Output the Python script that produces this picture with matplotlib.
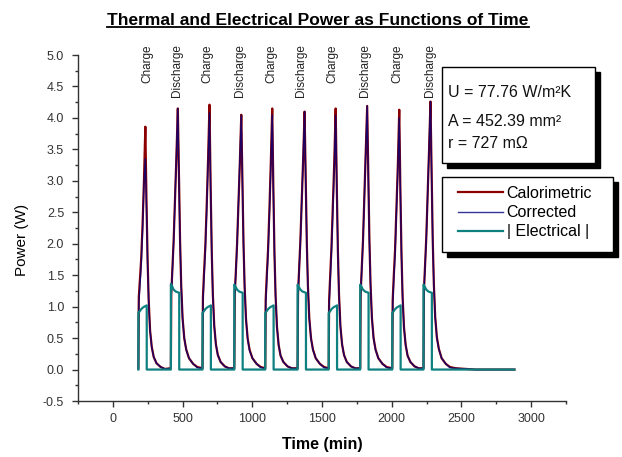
import matplotlib.pyplot as plt
import numpy as np
from matplotlib.patches import Rectangle
from matplotlib.lines import Line2D
from matplotlib.ticker import MultipleLocator

plt.rcParams['font.family'] = ['Liberation Sans', 'DejaVu Sans']

# pulse start times (min), charge / discharge alternate
pulse_start = [183, 416, 643, 871, 1093, 1325, 1548, 1774, 2004, 2228]
pulse_kind = ['Charge', 'Discharge'] * 5
label_time = [248, 463, 679, 912, 1134, 1350, 1577, 1805, 2044, 2272]

# thermal samples, minutes after each pulse start
cal_offset = [0, 3, 10, 20, 30, 40, 50, 58, 66, 74, 84, 96, 110, 130, 160, 190]
calorimetric = [
    [0.02, 1.15, 1.40, 1.75, 2.30, 3.00, 3.86, 2.70, 1.75, 1.10, 0.62, 0.36, 0.20, 0.10, 0.04, 0.01],
    [0.02, 1.20, 1.55, 2.05, 2.70, 3.40, 4.15, 3.05, 2.05, 1.35, 0.82, 0.50, 0.32, 0.18, 0.09, 0.04],
    [0.02, 1.15, 1.50, 1.95, 2.60, 3.35, 4.21, 2.95, 1.90, 1.20, 0.70, 0.40, 0.23, 0.12, 0.05, 0.02],
    [0.02, 1.20, 1.50, 2.00, 2.65, 3.30, 4.05, 3.00, 2.00, 1.32, 0.80, 0.49, 0.31, 0.18, 0.09, 0.04],
    [0.02, 1.10, 1.45, 1.90, 2.55, 3.30, 4.15, 2.90, 1.85, 1.18, 0.68, 0.39, 0.22, 0.12, 0.05, 0.02],
    [0.02, 1.20, 1.55, 2.05, 2.70, 3.35, 4.10, 3.02, 2.02, 1.33, 0.81, 0.50, 0.32, 0.18, 0.09, 0.04],
    [0.02, 1.10, 1.45, 1.95, 2.60, 3.30, 4.15, 2.92, 1.88, 1.19, 0.69, 0.40, 0.23, 0.12, 0.05, 0.02],
    [0.02, 1.20, 1.55, 2.05, 2.75, 3.45, 4.19, 3.08, 2.06, 1.36, 0.82, 0.50, 0.32, 0.18, 0.09, 0.04],
    [0.02, 1.10, 1.45, 1.90, 2.55, 3.25, 4.13, 2.88, 1.84, 1.16, 0.67, 0.39, 0.22, 0.12, 0.05, 0.02],
    [0.02, 1.25, 1.60, 2.10, 2.80, 3.50, 4.26, 3.12, 2.08, 1.37, 0.83, 0.51, 0.33, 0.18, 0.09, 0.04],
]
corrected = [
    [0.02, 1.05, 1.30, 1.65, 2.20, 2.95, 3.35, 2.60, 1.72, 1.08, 0.61, 0.35, 0.20, 0.10, 0.04, 0.01],
    [0.02, 1.18, 1.53, 2.03, 2.70, 3.42, 4.15, 3.02, 2.03, 1.34, 0.81, 0.50, 0.31, 0.18, 0.09, 0.03],
    [0.02, 1.07, 1.42, 1.88, 2.52, 3.28, 4.08, 2.90, 1.88, 1.19, 0.70, 0.40, 0.23, 0.12, 0.05, 0.02],
    [0.02, 1.18, 1.48, 1.98, 2.65, 3.32, 4.04, 2.98, 1.99, 1.31, 0.80, 0.48, 0.30, 0.18, 0.09, 0.03],
    [0.02, 1.02, 1.38, 1.83, 2.48, 3.22, 4.05, 2.86, 1.83, 1.17, 0.68, 0.39, 0.22, 0.12, 0.05, 0.02],
    [0.02, 1.18, 1.53, 2.03, 2.70, 3.37, 4.10, 3.00, 2.01, 1.32, 0.81, 0.49, 0.31, 0.18, 0.09, 0.03],
    [0.02, 1.02, 1.38, 1.88, 2.52, 3.22, 4.04, 2.88, 1.86, 1.18, 0.69, 0.40, 0.23, 0.12, 0.05, 0.02],
    [0.02, 1.18, 1.53, 2.03, 2.75, 3.47, 4.19, 3.05, 2.04, 1.35, 0.82, 0.49, 0.31, 0.18, 0.09, 0.03],
    [0.02, 1.02, 1.38, 1.83, 2.48, 3.18, 4.00, 2.84, 1.82, 1.15, 0.67, 0.39, 0.22, 0.12, 0.05, 0.02],
    [0.02, 1.23, 1.58, 2.08, 2.80, 3.52, 4.26, 3.10, 2.06, 1.36, 0.83, 0.50, 0.32, 0.18, 0.09, 0.03],
]
tail_time = [2460, 2600, 2750, 2880]
tail_cal = [0.02, 0.0, 0.0, 0.0]
tail_cor = [0.02, 0.0, 0.0, 0.0]

# electrical power during each pulse (absolute value)
elec_offset = [0, 0, 8, 20, 35, 60, 60]
electrical = [
    [0, 0.91, 0.92, 0.96, 0.99, 1.02, 0],
    [0, 1.36, 1.33, 1.27, 1.24, 1.22, 0],
    [0, 0.90, 0.92, 0.96, 0.99, 1.02, 0],
    [0, 1.35, 1.32, 1.27, 1.24, 1.22, 0],
    [0, 0.90, 0.92, 0.96, 0.99, 1.02, 0],
    [0, 1.35, 1.32, 1.27, 1.24, 1.22, 0],
    [0, 0.90, 0.92, 0.96, 0.99, 1.02, 0],
    [0, 1.35, 1.32, 1.27, 1.24, 1.22, 0],
    [0, 0.90, 0.92, 0.96, 0.99, 1.02, 0],
    [0, 1.35, 1.32, 1.27, 1.24, 1.22, 0],
]

t_cal = np.concatenate([np.add(s, cal_offset) for s in pulse_start] + [tail_time])
y_cal = np.concatenate(calorimetric + [tail_cal])
y_cor = np.concatenate(corrected + [tail_cor])
t_ele = np.concatenate([np.add(s, elec_offset) for s in pulse_start] + [[2880]])
y_ele = np.concatenate(electrical + [[0]])

W, H = 622, 457
fig = plt.figure(figsize=(W / 100, H / 100), dpi=100)
ax = fig.add_axes([78 / W, 1 - 401 / H, 488 / W, 346 / H])

l_cal, = ax.plot(t_cal, y_cal, color='#8b0000', lw=1.6, label='Calorimetric')
l_cor, = ax.plot(t_cal, y_cor, color='#000080', lw=1.0, alpha=0.8, label='Corrected')
l_ele, = ax.plot(t_ele, y_ele, color='#0f8080', lw=1.6, label='| Electrical |')

for t, kind in zip(label_time, pulse_kind):
    ax.text(t, 5.17, kind, rotation=90, ha='center', va='top', fontsize=8.5,
            color='#222222', clip_on=False)

ax.set_xlim(-250, 3250)
ax.set_ylim(-0.5, 5.0)
ax.xaxis.set_minor_locator(MultipleLocator(250))
ax.yaxis.set_major_locator(MultipleLocator(0.5))
ax.yaxis.set_minor_locator(MultipleLocator(0.25))
ax.set_xticks(np.arange(0, 3001, 500))
ax.yaxis.set_major_formatter(plt.FormatStrFormatter('%.1f'))
for side in ['top', 'right']:
    ax.spines[side].set_visible(False)
for side in ['left', 'bottom']:
    ax.spines[side].set_color('#333333')
    ax.spines[side].set_linewidth(1.0)
ax.tick_params(which='major', direction='out', length=4, width=1, color='#333333',
               labelsize=9, labelcolor='#333333')
ax.tick_params(which='minor', direction='out', length=2.5, width=1, color='#333333')
ax.tick_params(axis='y', pad=6)
ax.tick_params(axis='x', pad=5)

ax.set_ylabel('Power (W)', fontsize=11)
ax.yaxis.set_label_coords(-0.100, 0.465)
ax.set_xlabel('Time (min)', fontsize=11.5, fontweight='bold', va='top')
ax.xaxis.set_label_coords(0.5, -0.104)

title = fig.text(318 / W, 1 - 25 / H, 'Thermal and Electrical Power as Functions of Time',
                 ha='center', va='baseline', fontsize=12.5, fontweight='bold')

# parameter box with drop shadow
def box(x0, y0, x1, y1):
    fig.add_artist(Rectangle((x0 / W + 5 / W, 1 - y1 / H - 5 / H), (x1 - x0) / W, (y1 - y0) / H,
                             transform=fig.transFigure, facecolor='black', edgecolor='black', zorder=3))
    fig.add_artist(Rectangle((x0 / W, 1 - y1 / H), (x1 - x0) / W, (y1 - y0) / H,
                             transform=fig.transFigure, facecolor='white', edgecolor='black',
                             lw=1, zorder=4))

box(442, 67, 595, 163)
for y, s in zip([92, 122, 143], ['U = 77.76 W/m²K', 'A = 452.39 mm²', 'r = 727 mΩ']):
    fig.text(448 / W, 1 - y / H, s, ha='left', va='center', fontsize=11.5, color='#111111', zorder=6)

box(442, 177, 613, 252)
leg = fig.legend(handles=[l_cal, l_cor, l_ele], loc='upper left',
                 bbox_to_anchor=(458 / W, 1 - 186 / H), frameon=False, fontsize=11.5,
                 handlelength=2.8, handletextpad=0.25, labelspacing=0.26,
                 borderpad=0, borderaxespad=0)
leg.set_zorder(6)

# underline the title
fig.canvas.draw()
bb = title.get_window_extent()
inv = fig.transFigure.inverted()
(ux0, uy), (ux1, _) = inv.transform([(bb.x0, bb.y0 + 1.5), (bb.x1, bb.y0 + 1.5)])
fig.add_artist(Line2D([ux0, ux1], [uy, uy], transform=fig.transFigure, color='black', lw=1.3))

fig.savefig('out.png', dpi=100)
